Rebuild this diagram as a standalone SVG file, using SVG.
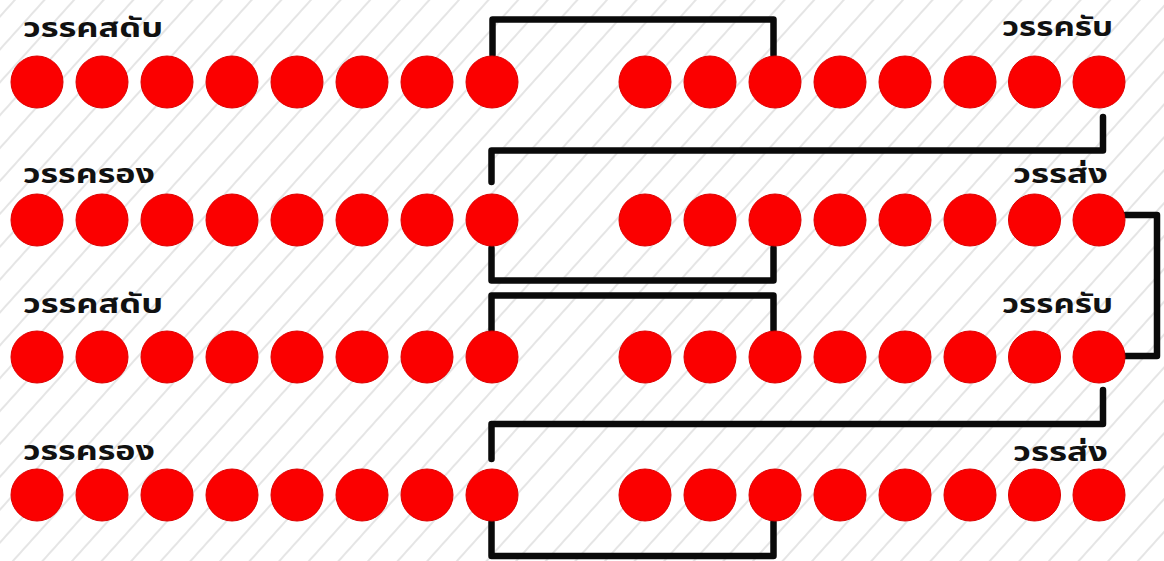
<svg xmlns="http://www.w3.org/2000/svg" width="1164" height="561" viewBox="0 0 1164 561">
<defs>
<pattern id="hatch" patternUnits="userSpaceOnUse" width="22" height="22" patternTransform="rotate(42)">
<line x1="11" y1="0" x2="11" y2="22" stroke="#d4d4d4" stroke-width="1.2"/>
</pattern>
<circle id="dot" r="26" fill="#fb0000" stroke="#dd0000" stroke-width="1"/>
</defs>
<style>
.lbl{font-family:"Noto Sans Thai","Noto Sans","DejaVu Sans",sans-serif;font-weight:bold;font-size:27px;fill:#111}
.con{fill:none;stroke:#0a0a0a;stroke-width:6.5;stroke-linejoin:round;stroke-linecap:round}
</style>
<rect width="1164" height="561" fill="#ffffff"/>
<rect width="1164" height="561" fill="url(#hatch)"/>

<g id="connectors">
<path class="con" d="M492.5,55 V19.5 H773.5 V55"/>
<path class="con" d="M1103,117 V150.5 H491.5 V182"/>
<path class="con" d="M491.5,248 V280.5 H773.5 V248"/>
<path class="con" d="M491.5,330 V295.5 H773.5 V330"/>
<path class="con" d="M1125,215 H1157 V356 H1125"/>
<path class="con" d="M1103,390 V424 H491.5 V459"/>
<path class="con" d="M491.5,522 V556 H773.5 V522"/>
</g>

<g id="row1">
<g id="row1-left">
<text class="lbl" x="23" y="37" textLength="140" lengthAdjust="spacingAndGlyphs">วรรคสดับ</text>
<use href="#dot" x="37" y="82"/><use href="#dot" x="102" y="82"/><use href="#dot" x="167" y="82"/><use href="#dot" x="232" y="82"/><use href="#dot" x="297" y="82"/><use href="#dot" x="362" y="82"/><use href="#dot" x="427" y="82"/><use href="#dot" x="492" y="82"/>
</g>
<g id="row1-right">
<text class="lbl" x="1002" y="36" textLength="111" lengthAdjust="spacingAndGlyphs">วรรครับ</text>
<use href="#dot" x="645" y="82"/><use href="#dot" x="710" y="82"/><use href="#dot" x="775" y="82"/><use href="#dot" x="840" y="82"/><use href="#dot" x="905" y="82"/><use href="#dot" x="970" y="82"/><use href="#dot" x="1034.5" y="82"/><use href="#dot" x="1099" y="82"/>
</g>
</g>

<g id="row2">
<g id="row2-left">
<text class="lbl" x="23" y="183" textLength="132" lengthAdjust="spacingAndGlyphs">วรรครอง</text>
<use href="#dot" x="37" y="220"/><use href="#dot" x="102" y="220"/><use href="#dot" x="167" y="220"/><use href="#dot" x="232" y="220"/><use href="#dot" x="297" y="220"/><use href="#dot" x="362" y="220"/><use href="#dot" x="427" y="220"/><use href="#dot" x="492" y="220"/>
</g>
<g id="row2-right">
<text class="lbl" x="1013" y="183" textLength="95" lengthAdjust="spacingAndGlyphs">วรรส่ง</text>
<use href="#dot" x="645" y="220"/><use href="#dot" x="710" y="220"/><use href="#dot" x="775" y="220"/><use href="#dot" x="840" y="220"/><use href="#dot" x="905" y="220"/><use href="#dot" x="970" y="220"/><use href="#dot" x="1034.5" y="220"/><use href="#dot" x="1099" y="220"/>
</g>
</g>

<g id="row3">
<g id="row3-left">
<text class="lbl" x="23" y="313" textLength="140" lengthAdjust="spacingAndGlyphs">วรรคสดับ</text>
<use href="#dot" x="37" y="357"/><use href="#dot" x="102" y="357"/><use href="#dot" x="167" y="357"/><use href="#dot" x="232" y="357"/><use href="#dot" x="297" y="357"/><use href="#dot" x="362" y="357"/><use href="#dot" x="427" y="357"/><use href="#dot" x="492" y="357"/>
</g>
<g id="row3-right">
<text class="lbl" x="1002" y="313" textLength="111" lengthAdjust="spacingAndGlyphs">วรรครับ</text>
<use href="#dot" x="645" y="357"/><use href="#dot" x="710" y="357"/><use href="#dot" x="775" y="357"/><use href="#dot" x="840" y="357"/><use href="#dot" x="905" y="357"/><use href="#dot" x="970" y="357"/><use href="#dot" x="1034.5" y="357"/><use href="#dot" x="1099" y="357"/>
</g>
</g>

<g id="row4">
<g id="row4-left">
<text class="lbl" x="23" y="460" textLength="132" lengthAdjust="spacingAndGlyphs">วรรครอง</text>
<use href="#dot" x="37" y="495"/><use href="#dot" x="102" y="495"/><use href="#dot" x="167" y="495"/><use href="#dot" x="232" y="495"/><use href="#dot" x="297" y="495"/><use href="#dot" x="362" y="495"/><use href="#dot" x="427" y="495"/><use href="#dot" x="492" y="495"/>
</g>
<g id="row4-right">
<text class="lbl" x="1013" y="461" textLength="95" lengthAdjust="spacingAndGlyphs">วรรส่ง</text>
<use href="#dot" x="645" y="495"/><use href="#dot" x="710" y="495"/><use href="#dot" x="775" y="495"/><use href="#dot" x="840" y="495"/><use href="#dot" x="905" y="495"/><use href="#dot" x="970" y="495"/><use href="#dot" x="1034.5" y="495"/><use href="#dot" x="1099" y="495"/>
</g>
</g>
</svg>
